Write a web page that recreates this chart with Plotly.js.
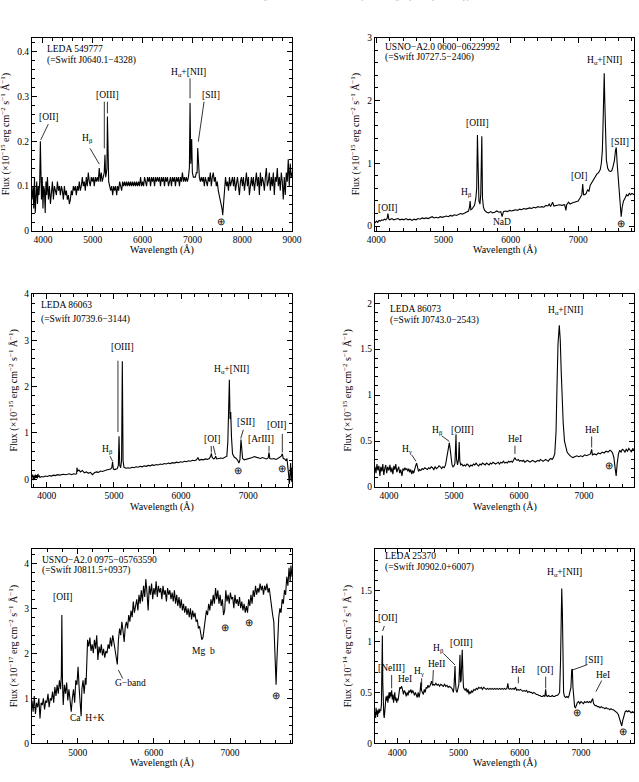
<!DOCTYPE html>
<html><head><meta charset="utf-8">
<script src="https://cdn.plot.ly/plotly-3.0.1.min.js"></script>
<style>html,body{margin:0;padding:0;background:#fff}#plot{width:639px;height:782px}</style>
</head><body><div id="plot"></div>
<script>
// ---------- DATA (wavelength in Å, flux) ----------
const spec1 = [[3780,0.07],[3800,0.10],[3815,0.05],[3830,0.12],[3845,0.04],[3860,0.09],[3875,0.11],[3890,0.06],[3905,0.10],[3920,0.08],[3935,0.11],[3948,0.20],[3958,0.12],[3970,0.07],[3985,0.12],[4000,0.05],[4015,0.10],[4030,0.09],[4045,0.04],[4060,0.11],[4075,0.08],[4090,0.12],[4110,0.07],[4130,0.10],[4150,0.06],[4170,0.09],[4190,0.11],[4210,0.07],[4230,0.10],[4250,0.09],[4270,0.08],[4290,0.11],[4310,0.09],[4330,0.10],[4350,0.08],[4370,0.10],[4390,0.09],[4410,0.07],[4430,0.10],[4450,0.08],[4470,0.09],[4490,0.07],[4510,0.08],[4530,0.06],[4550,0.07],[4570,0.09],[4590,0.08],[4610,0.10],[4630,0.09],[4650,0.10],[4670,0.08],[4690,0.10],[4710,0.09],[4730,0.11],[4750,0.09],[4770,0.10],[4790,0.12],[4810,0.10],[4830,0.11],[4850,0.09],[4870,0.12],[4890,0.10],[4910,0.13],[4930,0.11],[4950,0.10],[4970,0.12],[4990,0.11],[5010,0.12],[5030,0.10],[5050,0.12],[5070,0.11],[5090,0.12],[5110,0.11],[5130,0.14],[5150,0.11],[5170,0.13],[5190,0.11],[5210,0.12],[5230,0.13],[5245,0.17],[5258,0.12],[5275,0.13],[5285,0.14],[5294,0.255],[5305,0.13],[5320,0.11],[5340,0.10],[5360,0.09],[5380,0.10],[5400,0.08],[5420,0.10],[5440,0.09],[5460,0.10],[5480,0.08],[5500,0.10],[5520,0.09],[5540,0.11],[5560,0.10],[5580,0.09],[5600,0.11],[5620,0.10],[5640,0.11],[5660,0.10],[5680,0.11],[5700,0.10],[5720,0.11],[5740,0.10],[5760,0.11],[5780,0.10],[5800,0.11],[5820,0.10],[5840,0.11],[5860,0.10],[5880,0.11],[5900,0.10],[5920,0.11],[5940,0.10],[5960,0.12],[5980,0.10],[6000,0.11],[6020,0.10],[6040,0.12],[6060,0.11],[6080,0.10],[6100,0.12],[6120,0.11],[6140,0.12],[6160,0.10],[6180,0.12],[6200,0.11],[6220,0.12],[6240,0.10],[6260,0.12],[6280,0.11],[6300,0.12],[6320,0.11],[6340,0.12],[6360,0.10],[6380,0.12],[6400,0.11],[6420,0.12],[6440,0.10],[6460,0.12],[6480,0.11],[6500,0.12],[6520,0.10],[6540,0.11],[6560,0.12],[6580,0.10],[6600,0.12],[6620,0.11],[6640,0.12],[6660,0.10],[6680,0.12],[6700,0.11],[6720,0.12],[6740,0.10],[6760,0.12],[6780,0.11],[6800,0.13],[6820,0.11],[6840,0.12],[6860,0.11],[6880,0.12],[6900,0.11],[6920,0.12],[6940,0.14],[6953,0.285],[6968,0.15],[6986,0.205],[7000,0.13],[7020,0.12],[7040,0.12],[7060,0.12],[7080,0.13],[7095,0.13],[7107,0.185],[7120,0.14],[7140,0.12],[7160,0.11],[7180,0.12],[7200,0.11],[7220,0.12],[7240,0.10],[7260,0.12],[7280,0.11],[7300,0.10],[7320,0.12],[7340,0.11],[7360,0.13],[7380,0.10],[7400,0.12],[7420,0.13],[7440,0.11],[7460,0.12],[7480,0.10],[7500,0.11],[7520,0.09],[7540,0.08],[7560,0.07],[7580,0.06],[7595,0.05],[7609,0.035],[7625,0.06],[7645,0.09],[7665,0.12],[7685,0.10],[7705,0.11],[7725,0.09],[7745,0.12],[7765,0.10],[7785,0.11],[7805,0.12],[7825,0.10],[7845,0.12],[7865,0.09],[7885,0.11],[7905,0.12],[7925,0.10],[7945,0.08],[7965,0.11],[7985,0.12],[8005,0.10],[8025,0.12],[8045,0.09],[8065,0.11],[8085,0.13],[8105,0.10],[8125,0.12],[8145,0.08],[8165,0.11],[8185,0.12],[8205,0.10],[8225,0.12],[8245,0.09],[8265,0.11],[8285,0.13],[8305,0.10],[8325,0.12],[8345,0.08],[8365,0.13],[8385,0.10],[8405,0.12],[8425,0.11],[8445,0.09],[8465,0.12],[8485,0.14],[8505,0.10],[8525,0.11],[8545,0.13],[8565,0.09],[8585,0.12],[8605,0.10],[8625,0.13],[8645,0.08],[8665,0.12],[8685,0.11],[8705,0.14],[8725,0.10],[8745,0.12],[8765,0.09],[8785,0.13],[8805,0.11],[8825,0.07],[8845,0.12],[8865,0.08],[8885,0.13],[8905,0.11],[8925,0.16],[8945,0.10],[8965,0.15],[8985,0.12],[9000,0.13]];

const spec2 = [[3980,0.05],[4000,0.08],[4020,0.06],[4040,0.09],[4060,0.08],[4080,0.10],[4100,0.09],[4120,0.11],[4140,0.10],[4160,0.12],[4172,0.20],[4185,0.11],[4200,0.10],[4230,0.12],[4260,0.10],[4290,0.11],[4320,0.12],[4350,0.10],[4380,0.11],[4410,0.10],[4440,0.12],[4470,0.10],[4500,0.11],[4530,0.09],[4560,0.11],[4590,0.10],[4620,0.12],[4650,0.11],[4680,0.13],[4710,0.12],[4740,0.13],[4770,0.12],[4800,0.13],[4830,0.15],[4860,0.13],[4890,0.14],[4920,0.13],[4950,0.15],[4980,0.14],[5010,0.15],[5040,0.16],[5070,0.15],[5100,0.17],[5130,0.16],[5160,0.18],[5190,0.17],[5220,0.19],[5250,0.20],[5280,0.19],[5310,0.21],[5340,0.22],[5370,0.24],[5385,0.30],[5394,0.40],[5405,0.26],[5420,0.27],[5440,0.30],[5460,0.33],[5480,0.45],[5492,0.60],[5503,1.45],[5513,0.62],[5525,0.40],[5540,0.35],[5552,0.50],[5568,1.43],[5578,0.45],[5592,0.30],[5610,0.25],[5640,0.22],[5670,0.21],[5700,0.23],[5730,0.21],[5760,0.22],[5790,0.24],[5820,0.22],[5850,0.23],[5870,0.15],[5890,0.23],[5920,0.24],[5950,0.23],[5980,0.25],[6010,0.24],[6040,0.25],[6070,0.26],[6100,0.25],[6130,0.27],[6160,0.26],[6190,0.28],[6220,0.27],[6250,0.28],[6280,0.29],[6310,0.28],[6340,0.30],[6370,0.29],[6400,0.31],[6430,0.30],[6460,0.31],[6490,0.30],[6520,0.33],[6550,0.32],[6570,0.35],[6590,0.31],[6620,0.38],[6640,0.32],[6680,0.33],[6720,0.34],[6760,0.33],[6800,0.34],[6818,0.25],[6830,0.34],[6858,0.38],[6880,0.35],[6920,0.37],[6960,0.38],[7000,0.40],[7030,0.45],[7055,0.50],[7068,0.67],[7081,0.50],[7100,0.50],[7120,0.52],[7140,0.58],[7160,0.55],[7180,0.65],[7205,0.70],[7230,0.75],[7255,0.80],[7280,0.83],[7304,0.85],[7329,0.90],[7345,1.00],[7360,1.20],[7370,1.60],[7380,2.10],[7388,2.43],[7396,2.00],[7405,1.50],[7420,1.05],[7440,0.92],[7460,0.88],[7480,0.87],[7500,0.88],[7520,0.95],[7540,1.05],[7555,1.20],[7567,1.25],[7580,1.00],[7595,0.75],[7610,0.55],[7625,0.30],[7640,0.15],[7655,0.30],[7675,0.40],[7700,0.45],[7720,0.50],[7740,0.48],[7760,0.52],[7780,0.50],[7800,0.52],[7835,0.50]];

const spec3 = [[3781,0.05],[3790,0.10],[3800,-0.02],[3810,0.08],[3820,0.00],[3830,0.10],[3840,0.03],[3850,0.09],[3860,0.02],[3870,0.12],[3880,0.05],[3890,0.07],[3900,0.04],[3920,0.06],[3950,0.05],[3980,0.07],[4010,0.06],[4040,0.08],[4070,0.07],[4100,0.09],[4130,0.08],[4160,0.10],[4190,0.09],[4220,0.10],[4250,0.11],[4280,0.10],[4310,0.11],[4340,0.12],[4370,0.10],[4400,0.12],[4430,0.11],[4445,0.12],[4450,0.25],[4460,0.18],[4480,0.20],[4500,0.16],[4530,0.19],[4560,0.14],[4590,0.16],[4620,0.13],[4650,0.15],[4680,0.10],[4710,0.14],[4740,0.16],[4770,0.15],[4800,0.18],[4830,0.17],[4860,0.19],[4890,0.20],[4920,0.21],[4950,0.22],[4968,0.25],[4980,0.38],[4992,0.22],[5010,0.21],[5030,0.22],[5050,0.23],[5066,0.30],[5076,0.93],[5087,0.30],[5100,0.25],[5114,0.40],[5125,2.55],[5136,0.40],[5150,0.26],[5180,0.24],[5210,0.25],[5240,0.24],[5270,0.26],[5300,0.25],[5330,0.27],[5360,0.26],[5390,0.28],[5420,0.27],[5450,0.29],[5480,0.28],[5510,0.30],[5540,0.29],[5570,0.31],[5600,0.30],[5630,0.32],[5660,0.31],[5690,0.33],[5720,0.32],[5750,0.34],[5780,0.33],[5810,0.35],[5840,0.34],[5870,0.36],[5900,0.35],[5930,0.37],[5960,0.36],[5990,0.38],[6020,0.37],[6050,0.39],[6080,0.38],[6110,0.40],[6140,0.39],[6170,0.41],[6200,0.40],[6230,0.42],[6250,0.47],[6270,0.41],[6300,0.43],[6330,0.42],[6360,0.44],[6390,0.43],[6420,0.45],[6440,0.50],[6450,0.56],[6460,0.48],[6480,0.44],[6500,0.45],[6514,0.50],[6530,0.44],[6560,0.45],[6590,0.46],[6620,0.45],[6650,0.47],[6680,0.50],[6695,0.80],[6705,1.50],[6718,2.15],[6728,1.30],[6738,1.45],[6750,0.90],[6765,0.55],[6790,0.48],[6820,0.45],[6845,0.40],[6860,0.35],[6875,0.42],[6882,0.75],[6891,0.86],[6900,0.70],[6915,0.45],[6940,0.42],[6970,0.43],[7000,0.44],[7030,0.46],[7060,0.47],[7090,0.49],[7120,0.48],[7150,0.46],[7180,0.45],[7210,0.47],[7240,0.45],[7270,0.44],[7295,0.46],[7308,0.58],[7320,0.45],[7350,0.44],[7380,0.45],[7410,0.43],[7440,0.45],[7470,0.47],[7490,0.50],[7506,0.55],[7520,0.45],[7540,0.44],[7560,0.40],[7575,0.45],[7590,0.30],[7600,0.10],[7610,-0.10],[7620,0.20],[7630,0.35],[7640,-0.05],[7650,0.25]];

const spec4 = [[3785,0.22],[3800,0.15],[3815,0.25],[3830,0.18],[3845,0.23],[3860,0.12],[3875,0.22],[3890,0.17],[3905,0.25],[3920,0.13],[3935,0.20],[3950,0.24],[3965,0.15],[3980,0.22],[4000,0.18],[4015,0.24],[4030,0.16],[4045,0.21],[4060,0.14],[4075,0.23],[4090,0.19],[4105,0.25],[4120,0.16],[4135,0.20],[4150,0.22],[4165,0.15],[4180,0.19],[4200,0.12],[4215,0.20],[4230,0.18],[4245,0.21],[4260,0.19],[4275,0.20],[4290,0.17],[4305,0.20],[4320,0.16],[4335,0.19],[4350,0.14],[4365,0.18],[4380,0.15],[4395,0.20],[4410,0.23],[4425,0.26],[4440,0.22],[4455,0.17],[4470,0.19],[4490,0.18],[4510,0.20],[4530,0.19],[4550,0.21],[4570,0.20],[4590,0.19],[4610,0.21],[4630,0.20],[4650,0.22],[4670,0.21],[4690,0.19],[4710,0.22],[4730,0.20],[4750,0.21],[4770,0.23],[4790,0.22],[4810,0.20],[4830,0.22],[4850,0.21],[4870,0.24],[4885,0.30],[4900,0.38],[4915,0.45],[4928,0.48],[4940,0.42],[4955,0.30],[4970,0.24],[4985,0.22],[5000,0.23],[5015,0.26],[5025,0.40],[5031,0.56],[5040,0.30],[5055,0.24],[5070,0.30],[5080,0.49],[5090,0.28],[5105,0.24],[5120,0.25],[5140,0.23],[5160,0.24],[5180,0.23],[5200,0.25],[5220,0.24],[5240,0.22],[5260,0.24],[5280,0.23],[5300,0.25],[5320,0.24],[5340,0.26],[5360,0.24],[5380,0.23],[5400,0.25],[5420,0.24],[5440,0.26],[5460,0.25],[5480,0.24],[5500,0.26],[5520,0.25],[5540,0.24],[5560,0.26],[5580,0.25],[5600,0.27],[5620,0.26],[5640,0.25],[5660,0.26],[5680,0.27],[5700,0.25],[5720,0.27],[5740,0.26],[5760,0.28],[5780,0.26],[5800,0.27],[5820,0.26],[5840,0.28],[5860,0.27],[5880,0.28],[5900,0.27],[5920,0.29],[5938,0.32],[5950,0.30],[5970,0.29],[5990,0.30],[6010,0.28],[6030,0.29],[6050,0.28],[6070,0.29],[6090,0.27],[6110,0.28],[6130,0.29],[6150,0.28],[6170,0.27],[6190,0.28],[6210,0.29],[6230,0.28],[6250,0.27],[6270,0.28],[6290,0.29],[6310,0.28],[6330,0.30],[6350,0.29],[6370,0.28],[6390,0.29],[6410,0.30],[6430,0.29],[6450,0.28],[6470,0.30],[6490,0.31],[6510,0.30],[6530,0.32],[6550,0.36],[6570,0.60],[6585,1.10],[6600,1.55],[6620,1.76],[6635,1.60],[6650,1.25],[6665,0.95],[6680,0.70],[6700,0.50],[6720,0.42],[6740,0.38],[6760,0.36],[6780,0.34],[6800,0.33],[6830,0.32],[6860,0.33],[6890,0.34],[6920,0.33],[6950,0.34],[6980,0.33],[7010,0.35],[7040,0.34],[7070,0.35],[7100,0.36],[7118,0.41],[7130,0.35],[7160,0.36],[7190,0.35],[7220,0.37],[7250,0.36],[7280,0.38],[7310,0.37],[7340,0.39],[7370,0.38],[7400,0.40],[7420,0.39],[7440,0.37],[7460,0.32],[7480,0.20],[7495,0.12],[7510,0.25],[7530,0.36],[7550,0.40],[7570,0.38],[7590,0.41],[7610,0.40],[7630,0.38],[7650,0.41],[7670,0.39],[7690,0.42],[7710,0.40],[7730,0.38],[7750,0.42],[7774,0.40]];

const spec5 = [[4400,0.95],[4415,0.70],[4430,1.05],[4445,0.65],[4460,0.90],[4475,0.80],[4490,1.00],[4505,0.55],[4520,0.90],[4535,0.85],[4550,1.00],[4565,0.75],[4580,0.95],[4595,0.90],[4610,1.10],[4625,0.80],[4640,1.00],[4655,0.95],[4670,1.15],[4685,0.90],[4700,1.25],[4715,1.05],[4730,1.30],[4745,1.10],[4760,1.40],[4775,1.20],[4785,1.50],[4792,2.85],[4800,1.40],[4810,0.85],[4825,1.30],[4840,1.10],[4855,1.35],[4870,0.95],[4885,1.20],[4900,0.85],[4915,0.70],[4930,1.00],[4945,1.20],[4960,0.90],[4975,1.40],[4990,1.30],[5005,1.70],[5020,1.20],[5035,0.90],[5045,0.60],[5055,1.20],[5070,1.40],[5085,1.10],[5100,1.45],[5110,1.30],[5120,1.90],[5130,2.30],[5145,2.15],[5160,2.35],[5175,2.05],[5190,2.20],[5205,2.00],[5220,2.30],[5235,2.10],[5250,2.40],[5265,1.85],[5280,2.15],[5295,2.00],[5310,2.20],[5325,1.95],[5340,2.10],[5355,1.90],[5370,2.05],[5385,2.00],[5400,2.20],[5415,2.10],[5430,2.35],[5445,2.15],[5460,2.40],[5475,2.25],[5490,2.10],[5505,1.90],[5520,1.75],[5535,2.30],[5550,2.55],[5565,2.40],[5580,2.70],[5595,2.50],[5610,2.25],[5625,2.60],[5640,2.70],[5655,2.55],[5670,2.85],[5685,2.70],[5700,2.95],[5715,2.80],[5730,3.15],[5745,2.90],[5760,3.05],[5775,3.20],[5790,2.95],[5805,3.30],[5820,3.10],[5835,3.40],[5850,3.15],[5865,3.50],[5880,3.25],[5895,3.65],[5910,3.35],[5925,2.95],[5940,3.50],[5955,3.30],[5970,3.55],[5985,3.20],[6000,3.45],[6015,3.30],[6030,3.60],[6045,3.25],[6060,3.50],[6075,3.35],[6090,3.45],[6105,3.20],[6120,3.50],[6135,3.30],[6150,3.40],[6165,3.15],[6180,3.45],[6195,3.30],[6210,3.40],[6225,3.20],[6240,3.35],[6255,3.15],[6270,3.40],[6285,3.10],[6300,3.30],[6315,3.05],[6330,3.25],[6345,3.00],[6360,3.20],[6375,2.95],[6390,3.10],[6405,2.90],[6420,3.05],[6435,2.85],[6450,3.00],[6465,2.80],[6480,3.00],[6495,2.75],[6510,2.95],[6525,2.80],[6540,2.90],[6555,2.70],[6570,2.75],[6585,2.55],[6600,2.60],[6615,2.40],[6630,2.30],[6645,2.35],[6660,2.55],[6675,2.80],[6690,2.95],[6705,2.85],[6720,3.10],[6735,2.95],[6750,3.20],[6765,3.05],[6780,3.30],[6795,3.10],[6810,3.45],[6825,3.20],[6840,3.40],[6855,3.10],[6870,3.30],[6885,3.05],[6900,3.20],[6915,2.85],[6930,2.95],[6945,3.40],[6960,3.15],[6975,3.30],[6990,3.10],[7005,3.35],[7020,3.20],[7035,3.25],[7050,3.00],[7065,3.30],[7080,3.10],[7095,3.20],[7110,3.05],[7125,3.25],[7140,3.00],[7155,3.15],[7170,2.95],[7185,3.10],[7200,2.90],[7215,3.05],[7230,2.90],[7245,3.20],[7260,3.05],[7275,3.30],[7290,3.10],[7305,3.40],[7320,3.25],[7335,3.50],[7350,3.30],[7365,3.45],[7380,3.35],[7395,3.55],[7410,3.40],[7425,3.50],[7440,3.30],[7455,3.50],[7470,3.40],[7485,3.55],[7500,3.35],[7515,3.45],[7530,3.20],[7545,3.00],[7560,2.85],[7575,2.70],[7585,2.30],[7595,1.60],[7605,1.30],[7615,1.80],[7625,2.40],[7640,2.80],[7655,3.00],[7670,2.90],[7685,3.20],[7700,3.10],[7715,3.40],[7730,3.30],[7745,3.70],[7760,3.50],[7775,3.90],[7790,3.60],[7800,3.95],[7814,3.70]];

const spec6 = [[3636,0.30],[3645,0.25],[3652,0.35],[3660,0.28],[3668,0.33],[3676,0.26],[3684,0.32],[3692,0.29],[3700,0.34],[3710,0.30],[3720,0.33],[3730,0.32],[3740,0.38],[3748,0.60],[3755,1.06],[3762,0.60],[3770,0.32],[3778,0.28],[3786,0.25],[3795,0.35],[3805,0.43],[3815,0.46],[3825,0.42],[3835,0.47],[3845,0.40],[3855,0.45],[3865,0.50],[3875,0.44],[3885,0.50],[3895,0.46],[3907,0.52],[3918,0.43],[3928,0.48],[3938,0.40],[3948,0.46],[3958,0.50],[3968,0.42],[3978,0.45],[3990,0.40],[4000,0.44],[4012,0.42],[4025,0.50],[4040,0.55],[4055,0.54],[4070,0.56],[4087,0.52],[4100,0.48],[4115,0.52],[4130,0.50],[4145,0.46],[4160,0.50],[4175,0.47],[4190,0.52],[4205,0.50],[4220,0.53],[4235,0.49],[4250,0.52],[4265,0.50],[4280,0.47],[4295,0.50],[4310,0.48],[4325,0.45],[4340,0.50],[4355,0.45],[4370,0.50],[4385,0.60],[4395,0.52],[4410,0.50],[4425,0.48],[4440,0.53],[4455,0.50],[4470,0.55],[4485,0.54],[4500,0.57],[4515,0.55],[4530,0.56],[4545,0.58],[4560,0.61],[4575,0.57],[4590,0.58],[4610,0.57],[4630,0.59],[4650,0.57],[4670,0.58],[4690,0.56],[4710,0.58],[4730,0.57],[4750,0.56],[4770,0.58],[4790,0.56],[4810,0.57],[4830,0.55],[4850,0.56],[4870,0.55],[4890,0.54],[4905,0.52],[4915,0.50],[4925,0.55],[4935,0.70],[4942,0.76],[4950,0.60],[4960,0.52],[4975,0.50],[4990,0.54],[5005,0.58],[5015,0.75],[5023,0.87],[5032,0.60],[5042,0.62],[5052,0.80],[5060,0.92],[5070,0.70],[5080,0.55],[5095,0.53],[5110,0.52],[5125,0.54],[5140,0.50],[5155,0.53],[5170,0.48],[5185,0.51],[5200,0.49],[5215,0.52],[5230,0.50],[5250,0.53],[5270,0.52],[5290,0.54],[5310,0.53],[5330,0.55],[5350,0.54],[5370,0.55],[5390,0.53],[5410,0.55],[5430,0.54],[5450,0.53],[5470,0.54],[5490,0.53],[5510,0.54],[5530,0.53],[5550,0.54],[5570,0.53],[5590,0.54],[5610,0.53],[5630,0.54],[5650,0.53],[5670,0.54],[5690,0.53],[5710,0.54],[5730,0.53],[5750,0.54],[5770,0.53],[5790,0.54],[5805,0.59],[5815,0.54],[5830,0.53],[5850,0.54],[5870,0.53],[5890,0.54],[5910,0.53],[5930,0.55],[5950,0.52],[5970,0.53],[5990,0.52],[6010,0.53],[6030,0.52],[6050,0.51],[6070,0.52],[6090,0.51],[6110,0.52],[6130,0.50],[6150,0.51],[6170,0.50],[6190,0.50],[6210,0.49],[6230,0.50],[6250,0.49],[6270,0.48],[6290,0.48],[6310,0.47],[6330,0.47],[6350,0.46],[6370,0.46],[6390,0.47],[6410,0.46],[6422,0.53],[6432,0.47],[6450,0.46],[6470,0.47],[6490,0.46],[6510,0.46],[6530,0.47],[6550,0.46],[6570,0.46],[6590,0.47],[6610,0.47],[6630,0.48],[6650,0.50],[6665,0.80],[6675,1.30],[6685,1.52],[6695,1.30],[6705,0.80],[6715,0.50],[6730,0.46],[6750,0.45],[6770,0.46],[6790,0.45],[6805,0.47],[6820,0.50],[6835,0.55],[6848,0.72],[6858,0.73],[6868,0.55],[6880,0.42],[6895,0.36],[6910,0.35],[6925,0.38],[6940,0.40],[6960,0.41],[6980,0.39],[7000,0.41],[7020,0.40],[7040,0.39],[7060,0.41],[7080,0.40],[7100,0.41],[7120,0.40],[7140,0.41],[7160,0.40],[7175,0.42],[7190,0.44],[7205,0.39],[7230,0.37],[7250,0.37],[7270,0.36],[7290,0.36],[7310,0.35],[7330,0.36],[7350,0.35],[7370,0.35],[7390,0.34],[7410,0.35],[7430,0.34],[7450,0.34],[7470,0.33],[7490,0.34],[7510,0.33],[7530,0.33],[7550,0.32],[7570,0.31],[7590,0.30],[7610,0.28],[7630,0.24],[7650,0.18],[7665,0.17],[7680,0.22],[7700,0.28],[7720,0.31],[7740,0.32],[7760,0.31],[7780,0.32],[7800,0.31],[7820,0.30],[7840,0.31],[7870,0.30]];

const objectNames = ["LEDA 549777","USNO\u2212A2.0 0600\u221206229992","LEDA 86063","LEDA 86073","USNO\u2212A2.0 0975\u221205763590","LEDA 25370"];
const swiftNames = ["(=Swift J0640.1\u22124328)","(=Swift J0727.5\u22122406)","(=Swift J0739.6\u22123144)","(=Swift J0743.0\u22122543)","(=Swift J0811.5+0937)","(=Swift J0902.0+6007)"];
const fluxExponents = ["\u221215","\u221215","\u221215","\u221215","\u221217","\u221214"];

// ---------- LAYOUT ----------
const W = 639, H = 782;
const FONT = "Liberation Serif";
const colX = [[32/W, 292/W], [375/W, 634.3/W]];
const rowY = [[1-231/H, 1-37.5/H], [1-487/H, 1-294/H], [1-743.3/H, 1-549.3/H]];
const xRanges = [[3780,9000],[3980,7835],[3781,7650],[3785,7774],[4400,7814],[3635,7870]];
const yRanges = [[0,0.431],[-0.078,3.0],[-0.166,4.0],[0,2.1],[0,4.31],[0,1.906]];
const yDticks = [0.1,1,1,0.5,1,0.5];
const yMinor = [0.02,0.2,0.2,0.1,0.2,0.1];
const specs = [spec1,spec2,spec3,spec4,spec5,spec6];

const layout = {
  width: W, height: H, margin:{l:0,r:0,t:0,b:0},
  paper_bgcolor:'#fff', plot_bgcolor:'#fff', showlegend:false,
  font:{family:FONT, size:9, color:'#000'},
  annotations:[], shapes:[]
};
const data = [];
for (let i=0;i<6;i++){
  const k = i===0 ? '' : String(i+1);
  const col = i%2, row = Math.floor(i/2);
  layout['xaxis'+k] = {
    domain: colX[col], range: xRanges[i], anchor:'y'+k,
    showline:true, linecolor:'#000', linewidth:1, mirror:'allticks',
    ticks:'inside', ticklen:5, tickcolor:'#000', tickwidth:1,
    tick0:0, dtick:1000, showgrid:false, zeroline:false,
    minor:{dtick:200, ticks:'inside', ticklen:3, tickcolor:'#000', showgrid:false},
    tickfont:{family:FONT, size:9.5, color:'#000'}, fixedrange:true
  };
  layout['yaxis'+k] = {
    domain: rowY[row], range: yRanges[i], anchor:'x'+k,
    showline:true, linecolor:'#000', linewidth:1, mirror:'allticks',
    ticks:'inside', ticklen:5, tickcolor:'#000', tickwidth:1,
    tick0:0, dtick:yDticks[i], showgrid:false, zeroline:false,
    minor:{dtick:yMinor[i], ticks:'inside', ticklen:3, tickcolor:'#000', showgrid:false},
    tickfont:{family:FONT, size:9.5, color:'#000'}, fixedrange:true
  };
  data.push({
    x: specs[i].map(p=>p[0]), y: specs[i].map(p=>p[1]),
    xaxis:'x'+k, yaxis:'y'+k, type:'scatter', mode:'lines',
    line:{color:'#000', width:1.1}, hoverinfo:'skip'
  });
}

function lab(i, x, y, text, anchor){
  const k = i===0 ? '' : String(i+1);
  layout.annotations.push({xref:'x'+k, yref:'y'+k, x:x, y:y, text:text, showarrow:false,
    xanchor: anchor||'center', yanchor:'middle', font:{family:FONT, size:9.5, color:'#000'}});
}
function seg(i, x0, y0, x1, y1){
  const k = i===0 ? '' : String(i+1);
  layout.shapes.push({type:'line', xref:'x'+k, yref:'y'+k, x0:x0, y0:y0, x1:x1, y1:y1,
    line:{color:'#000', width:0.8}});
}
const Ha = 'H<sub>\u03b1</sub>+[NII]', Hb = 'H<sub>\u03b2</sub>', Hg = 'H<sub>\u03b3</sub>', EARTH = '\u2295';

// object names (two lines in the upper-left corner of each panel)
const namePos = [[4041,0.405,0.379],[4095,2.855,2.68],[3890,3.76,3.45],[3989,1.94,1.813],[4505,4.075,3.84],[3771,1.84,1.723]];
for (let i=0;i<6;i++){
  lab(i, namePos[i][0], namePos[i][1], objectNames[i], 'left');
  lab(i, namePos[i][0], namePos[i][2], swiftNames[i], 'left');
}
// panel 1
lab(0,4127,0.2546,'[OII]'); lab(0,4890,0.206,Hb); lab(0,5292,0.303,'[OIII]');
lab(0,6919,0.3526,Ha); lab(0,7374,0.303,'[SII]'); lab(0,7575,0.019,EARTH);
seg(0,4107,0.238,3955,0.203); seg(0,4945,0.184,5131,0.149);
seg(0,5232,0.288,5232,0.184); seg(0,5294,0.288,5294,0.262);
seg(0,6953,0.340,6953,0.2955); seg(0,7234,0.288,7119,0.199);
// panel 2
lab(1,4179,0.29,'[OII]'); lab(1,5345,0.536,Hb); lab(1,5503,1.64,'[OIII]');
lab(1,5866,0.066,'NaD'); lab(1,7006,0.797,'[OI]'); lab(1,7388,2.63,Ha);
lab(1,7626,1.33,'[SII]'); lab(1,7641,0.04,EARTH);
// panel 3
lab(2,5125,2.86,'[OIII]'); lab(2,4902,0.64,Hb); lab(2,6753,2.37,Ha);
lab(2,6460,0.86,'[OI]'); lab(2,6961,1.24,'[SII]'); lab(2,7184,0.86,'[ArIII]');
lab(2,7432,1.17,'[OII]'); lab(2,6847,0.17,EARTH); lab(2,7497,0.216,EARTH);
seg(2,5060,2.56,5060,1.02); seg(2,4942,0.50,4980,0.39);
seg(2,6447,0.72,6450,0.58); seg(2,6478,0.72,6512,0.52);
seg(2,6926,1.07,6887,0.88);
seg(2,7308,0.72,7308,0.60); seg(2,7506,0.98,7506,0.58);
// panel 4
lab(3,6708,1.92,Ha); lab(3,4282,0.405,Hg); lab(3,4749,0.615,Hb);
lab(3,5134,0.615,'[OIII]'); lab(3,5938,0.52,'HeI'); lab(3,7118,0.62,'HeI');
lab(3,7390,0.224,EARTH);
seg(3,4349,0.35,4415,0.28); seg(3,4810,0.557,4928,0.496);
seg(3,5031,0.58,5031,0.55); seg(3,5938,0.45,5938,0.36); seg(3,7118,0.55,7118,0.43);
// panel 5
lab(4,4811,3.26,'[OII]'); lab(4,5126,0.555,'Ca  H+K'); lab(4,5687,1.33,'G\u2212band');
lab(4,6650,2.06,'Mg  b'); lab(4,6939,2.556,EARTH); lab(4,7254,2.667,EARTH); lab(4,7604,1.058,EARTH);
seg(4,5534,1.63,5591,1.44);
// panel 6
lab(5,6738,1.677,Ha); lab(5,3853,1.228,'[OII]'); lab(5,3907,0.737,'[NeIII]');
lab(5,4125,0.629,'HeI'); lab(5,4354,0.704,Hg); lab(5,4642,0.78,'HeII');
lab(5,4670,0.934,Hb); lab(5,5051,0.983,'[OIII]'); lab(5,5976,0.72,'HeI');
lab(5,6412,0.72,'[OI]'); lab(5,7212,0.819,'[SII]'); lab(5,7364,0.671,'HeI');
lab(5,6940,0.295,EARTH); lab(5,7680,0.108,EARTH);
seg(5,3788,1.153,3760,1.104); seg(5,3907,0.671,3907,0.54);
seg(5,4397,0.639,4397,0.557); seg(5,4588,0.72,4577,0.59);
seg(5,4751,0.884,4942,0.77); seg(5,5976,0.655,5976,0.59);
seg(5,6423,0.655,6423,0.54); seg(5,7092,0.77,6858,0.72); seg(5,7337,0.616,7244,0.508);

// axis titles
const yTitleX = [5,355,13,347,13,347];
const xTitleY = [250.5,250.5,506.5,506.5,762.5,762.5];
for (let i=0;i<6;i++){
  const k = i===0 ? '' : String(i+1);
  layout.annotations.push({xref:'paper', yref:'y'+k+' domain', x:yTitleX[i]/W, y:0.5,
    text:'Flux (\u00d710<sup>'+fluxExponents[i]+'</sup> erg cm<sup>\u22122</sup> s<sup>\u22121</sup> \u00c5<sup>\u22121</sup>)',
    textangle:-90, showarrow:false, xanchor:'center', yanchor:'middle',
    font:{family:FONT, size:10, color:'#000'}});
  layout.annotations.push({xref:'x'+k+' domain', yref:'paper', x:0.5, y:1-xTitleY[i]/H,
    text:'Wavelength (\u00c5)', showarrow:false, xanchor:'center', yanchor:'middle',
    font:{family:FONT, size:10, color:'#000'}});
}
// running header, cut by the top edge as in the reference
layout.annotations.push({xref:'paper', yref:'paper', x:0.51, y:1, yanchor:'bottom', xanchor:'center', yshift:-3,
  text:'N. Masetti et al.: Unveiling the nature of INTEGRAL objects through optical spectroscopy',
  showarrow:false, font:{family:FONT, size:8, color:'#b0b0b0'}});

Plotly.newPlot('plot', data, layout, {staticPlot:true, displayModeBar:false});
</script></body></html>
